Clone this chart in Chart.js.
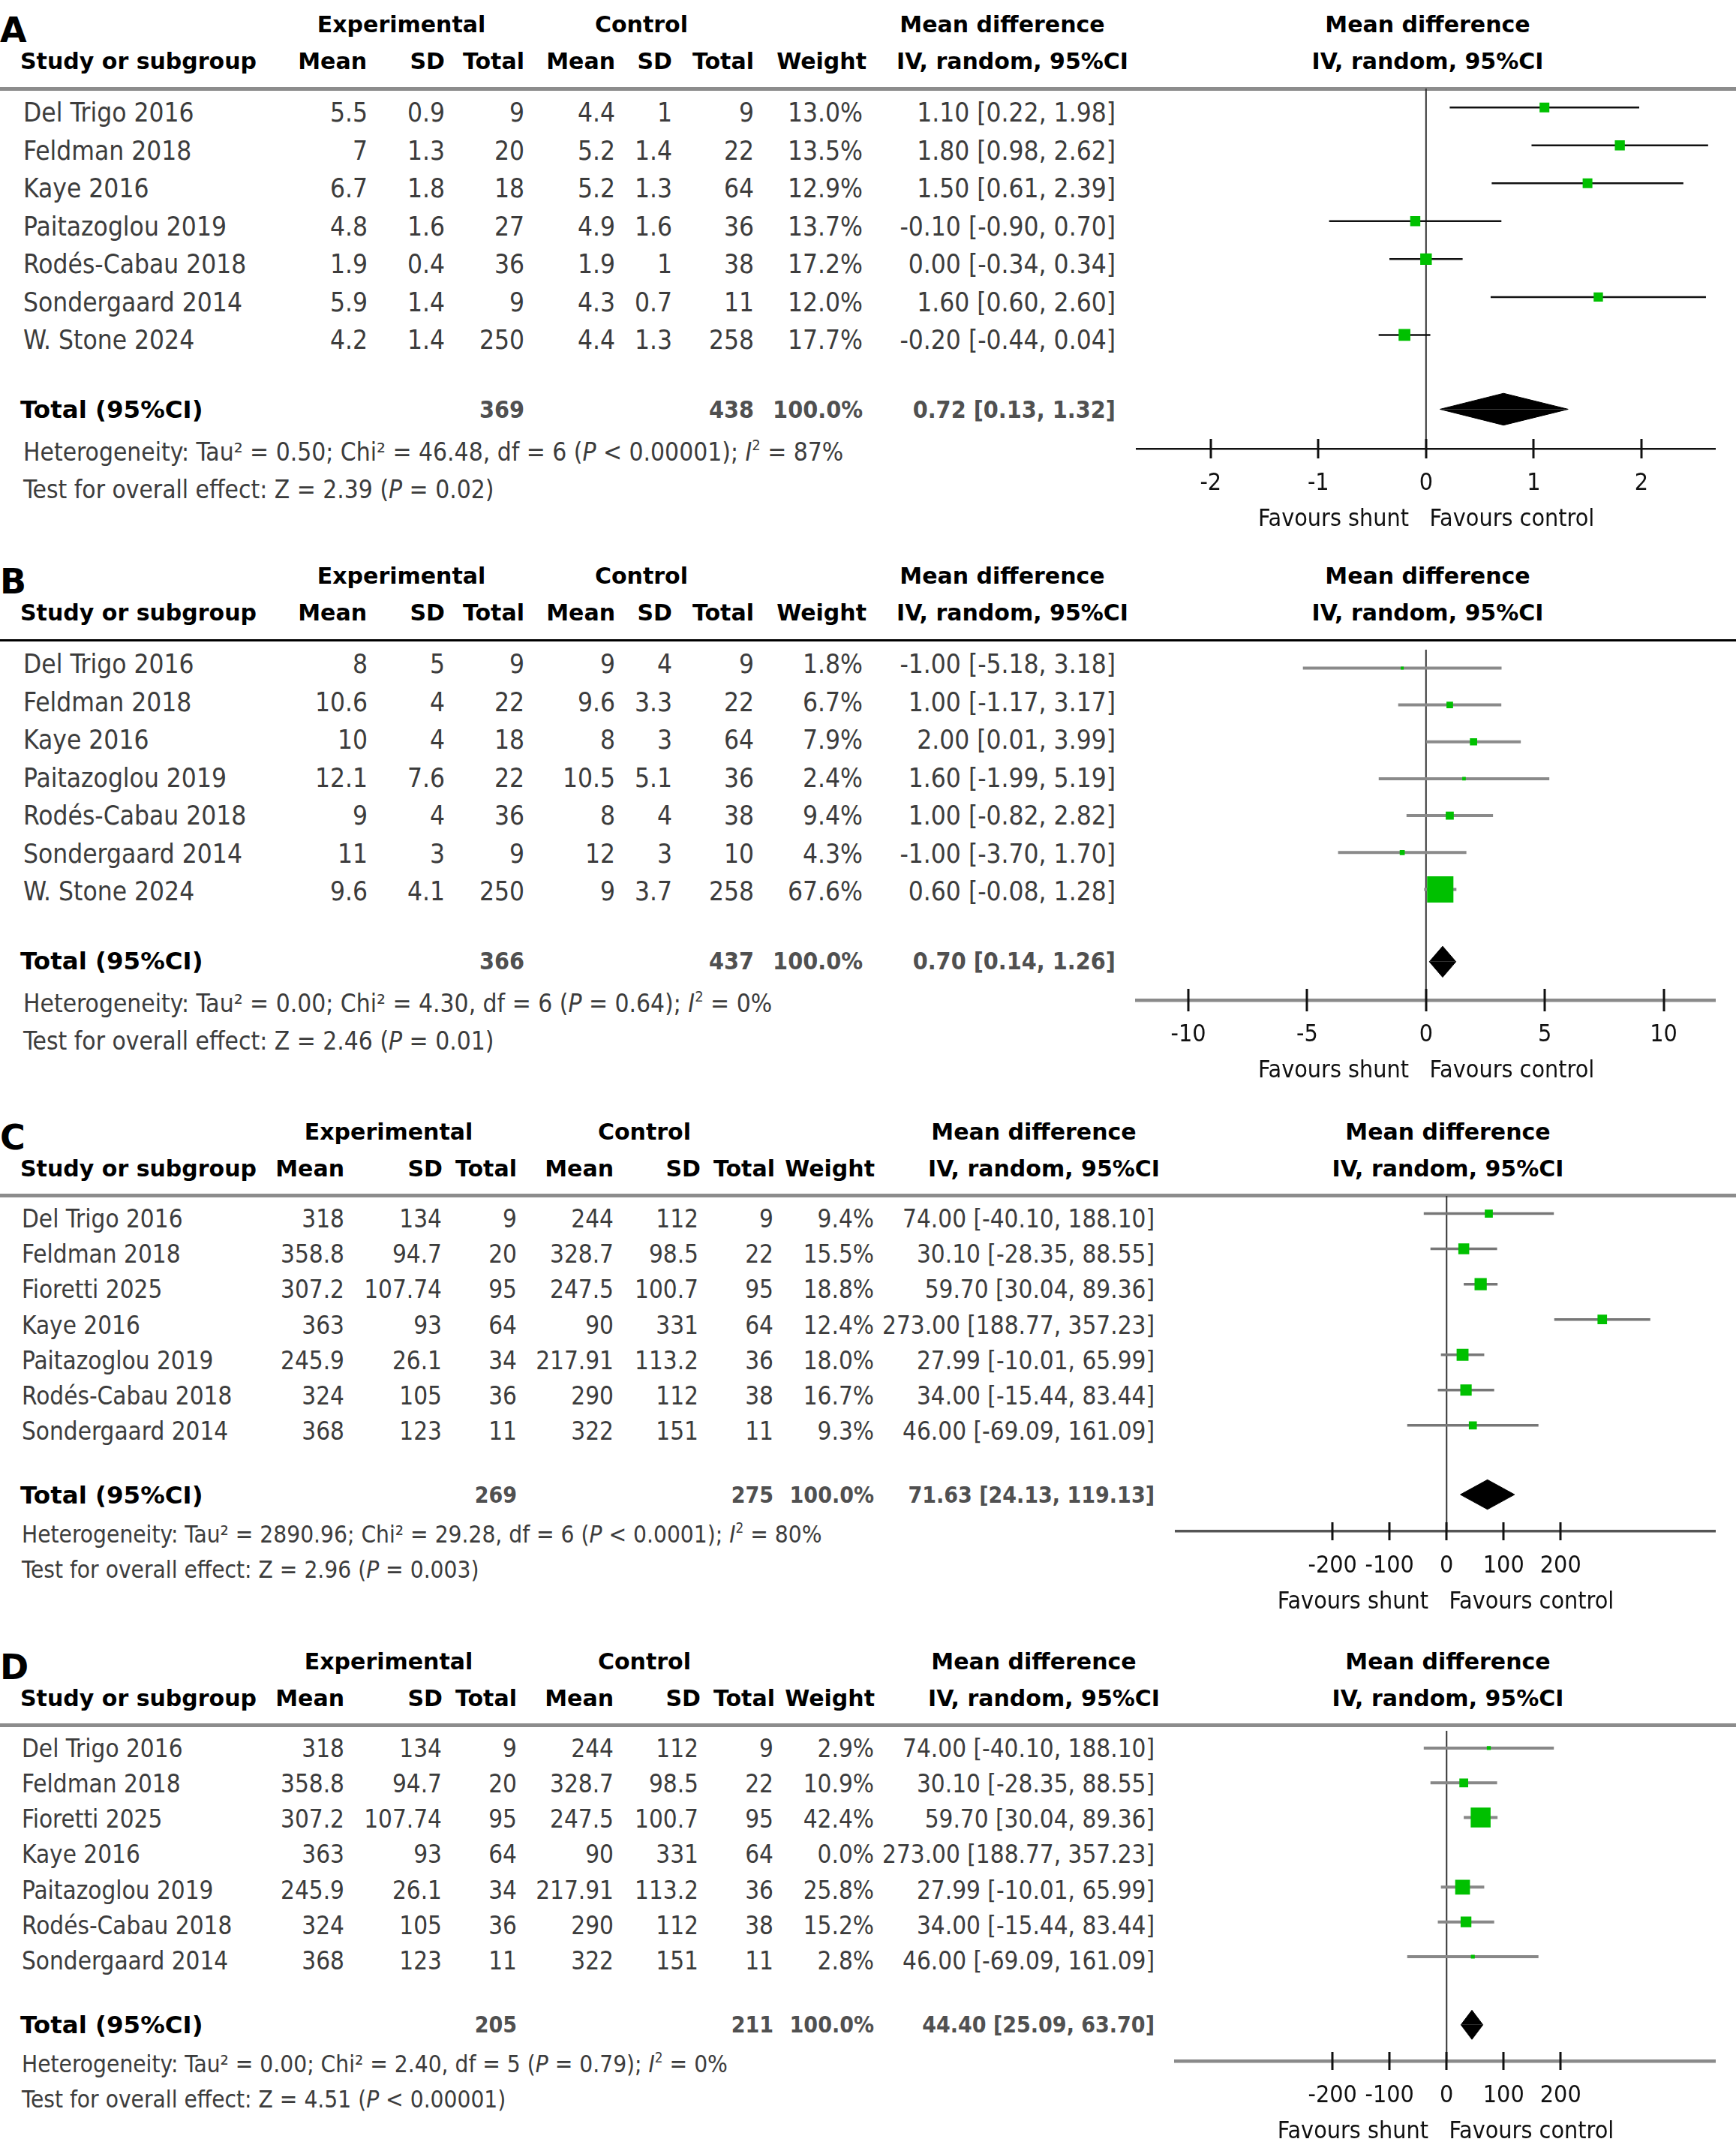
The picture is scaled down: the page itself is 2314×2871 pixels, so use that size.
<!DOCTYPE html>
<html>
<head>
<meta charset="utf-8">
<script src="https://cdn.jsdelivr.net/npm/chart.js@4.4.1/dist/chart.umd.min.js"></script>
<style>
    body { margin: 0; background: #fff; }
    #fig { position: relative; width: 2314px; height: 2871px; overflow: hidden; background: #fff; }
    .t { position: absolute; white-space: pre; line-height: 1; }
    .t sup { font-size: 0.6em; line-height: 0; vertical-align: 0.7em; }
    .hline { position: absolute; left: 0; width: 2314px; }
    canvas { position: absolute; }
</style>
</head>
<body>
<div id="fig"></div>
<script>
// ---- Data ----
const studiesAB = ['Del Trigo 2016', 'Feldman 2018', 'Kaye 2016', 'Paitazoglou 2019', 'Rodés-Cabau 2018', 'Sondergaard 2014', 'W. Stone 2024'];
const studiesCD = ['Del Trigo 2016', 'Feldman 2018', 'Fioretti 2025', 'Kaye 2016', 'Paitazoglou 2019', 'Rodés-Cabau 2018', 'Sondergaard 2014'];

// Panel A
const aExpMean = [5.5, 7, 6.7, 4.8, 1.9, 5.9, 4.2];
const aExpSD = [0.9, 1.3, 1.8, 1.6, 0.4, 1.4, 1.4];
const aExpN = [9, 20, 18, 27, 36, 9, 250];
const aCtlMean = [4.4, 5.2, 5.2, 4.9, 1.9, 4.3, 4.4];
const aCtlSD = [1, 1.4, 1.3, 1.6, 1, 0.7, 1.3];
const aCtlN = [9, 22, 64, 36, 38, 11, 258];
const aWeight = [13.0, 13.5, 12.9, 13.7, 17.2, 12.0, 17.7];
const aMD = [1.10, 1.80, 1.50, -0.10, 0.00, 1.60, -0.20];
const aLo = [0.22, 0.98, 0.61, -0.90, -0.34, 0.60, -0.44];
const aHi = [1.98, 2.62, 2.39, 0.70, 0.34, 2.60, 0.04];
const aTotalN = [369, 438];
const aTotalCI = [0.72, 0.13, 1.32];
const aTicks = [-2, -1, 0, 1, 2];
const aHet = 'Heterogeneity: Tau² = 0.50; Chi² = 46.48, df = 6 (<i>P</i> &lt; 0.00001); <i>I</i><sup>2</sup> = 87%';
const aTest = 'Test for overall effect: Z = 2.39 (<i>P</i> = 0.02)';

// Panel B
const bExpMean = [8, 10.6, 10, 12.1, 9, 11, 9.6];
const bExpSD = [5, 4, 4, 7.6, 4, 3, 4.1];
const bExpN = [9, 22, 18, 22, 36, 9, 250];
const bCtlMean = [9, 9.6, 8, 10.5, 8, 12, 9];
const bCtlSD = [4, 3.3, 3, 5.1, 4, 3, 3.7];
const bCtlN = [9, 22, 64, 36, 38, 10, 258];
const bWeight = [1.8, 6.7, 7.9, 2.4, 9.4, 4.3, 67.6];
const bMD = [-1.00, 1.00, 2.00, 1.60, 1.00, -1.00, 0.60];
const bLo = [-5.18, -1.17, 0.01, -1.99, -0.82, -3.70, -0.08];
const bHi = [3.18, 3.17, 3.99, 5.19, 2.82, 1.70, 1.28];
const bTotalN = [366, 437];
const bTotalCI = [0.70, 0.14, 1.26];
const bTicks = [-10, -5, 0, 5, 10];
const bHet = 'Heterogeneity: Tau² = 0.00; Chi² = 4.30, df = 6 (<i>P</i> = 0.64); <i>I</i><sup>2</sup> = 0%';
const bTest = 'Test for overall effect: Z = 2.46 (<i>P</i> = 0.01)';

// Panels C and D share the study rows
const cdExpMean = [318, 358.8, 307.2, 363, 245.9, 324, 368];
const cdExpSD = [134, 94.7, 107.74, 93, 26.1, 105, 123];
const cdExpN = [9, 20, 95, 64, 34, 36, 11];
const cdCtlMean = [244, 328.7, 247.5, 90, 217.91, 290, 322];
const cdCtlSD = [112, 98.5, 100.7, 331, 113.2, 112, 151];
const cdCtlN = [9, 22, 95, 64, 36, 38, 11];
const cdMD = [74.00, 30.10, 59.70, 273.00, 27.99, 34.00, 46.00];
const cdLo = [-40.10, -28.35, 30.04, 188.77, -10.01, -15.44, -69.09];
const cdHi = [188.10, 88.55, 89.36, 357.23, 65.99, 83.44, 161.09];
const cdTicks = [-200, -100, 0, 100, 200];

const cWeight = [9.4, 15.5, 18.8, 12.4, 18.0, 16.7, 9.3];
const cTotalN = [269, 275];
const cTotalCI = [71.63, 24.13, 119.13];
const cHet = 'Heterogeneity: Tau² = 2890.96; Chi² = 29.28, df = 6 (<i>P</i> &lt; 0.0001); <i>I</i><sup>2</sup> = 80%';
const cTest = 'Test for overall effect: Z = 2.96 (<i>P</i> = 0.003)';

const dWeight = [2.9, 10.9, 42.4, 0.0, 25.8, 15.2, 2.8];
const dTotalN = [205, 211];
const dTotalCI = [44.40, 25.09, 63.70];
const dHet = 'Heterogeneity: Tau² = 0.00; Chi² = 2.40, df = 5 (<i>P</i> = 0.79); <i>I</i><sup>2</sup> = 0%';
const dTest = 'Test for overall effect: Z = 4.51 (<i>P</i> &lt; 0.00001)';

const colHeads = ['Mean', 'SD', 'Total', 'Mean', 'SD', 'Total', 'Weight', 'IV, random, 95%CI'];

// ---- Layout ----
const GREEN = '#00c000';
const ROW_MAX = 9.5;      // y range of plot area (rows are at i + 0.5)
const TOTAL_ROW = 8.46;
const DIAMOND_H = 0.42;
const AXIS_RIGHT = 2286.6;
const CANVAS_LEFT = 1480;
const PAD_TOP = 12;
const SCALE_H = 114;
const HDR_FONT = 'bold 30px "DejaVu Sans"';
const TOTAL_FONT = 'bold 32.5px "DejaVu Sans"';
const LETTER_FONT = 'bold 46px "DejaVu Sans"';
const AXIS_FONT = '"DejaVu Sans Condensed", "DejaVu Sans"';

const layoutAB = {
    rowFont: 35, spacing: 50.5, nameX: 31,
    cols: [490, 593, 699, 820, 896, 1005, 1150, 1487],
    hdrCols: [489, 593, 699, 820, 896, 1005, 1155, 1504],
    groups: [535, 855, 1336, 1903],
    axisLeft: 1515.6
};
const layoutCD = {
    rowFont: 33, spacing: 47.1, nameX: 29,
    cols: [459, 589, 689, 818, 931, 1031, 1165, 1539],
    hdrCols: [459, 590, 689, 818, 934, 1033, 1166, 1546],
    groups: [518, 859, 1378, 1930],
    axisLeft: 1567.5
};

const fig = document.getElementById('fig');

function put(str, x, y, align, font, color) {
    const d = document.createElement('div');
    d.className = 't';
    d.style.font = font;
    d.style.lineHeight = '1';
    d.style.color = color || '#000';
    d.innerHTML = str;
    d.style.left = x + 'px';
    d.style.top = y + 'px';
    const tx = align === 'right' ? '-100%' : (align === 'center' ? '-50%' : '0');
    d.style.transform = 'translate(' + tx + ', -50%)';
    fig.appendChild(d);
}

function hline(y, width, color) {
    const d = document.createElement('div');
    d.className = 'hline';
    d.style.top = (y - width / 2) + 'px';
    d.style.height = width + 'px';
    d.style.background = color;
    fig.appendChild(d);
}

function ciText(md, lo, hi) {
    return md.toFixed(2) + ' [' + lo.toFixed(2) + ', ' + hi.toFixed(2) + ']';
}

// square side grows with study weight
function boxSide(w) {
    return 2.8 * Math.pow(w, 0.6);
}

// tick marks that cross the axis line, like RevMan
const crossTicks = {
    id: 'crossTicks',
    afterDraw(chart, args, opts) {
        const sx = chart.scales.x;
        const y0 = chart.chartArea.bottom;
        const ctx = chart.ctx;
        ctx.save();
        ctx.strokeStyle = opts.color;
        ctx.lineWidth = opts.width;
        sx.ticks.forEach(t => {
            const px = Math.round(sx.getPixelForValue(t.value));
            ctx.beginPath();
            ctx.moveTo(px, y0 - opts.len);
            ctx.lineTo(px, y0 + opts.len);
            ctx.stroke();
        });
        ctx.restore();
    }
};

function buildPanel(p) {
    const L = p.layout;
    const HL = p.hl;
    const rowY = v => HL + v * L.spacing;
    const family = '"DejaVu Sans Condensed", "DejaVu Sans"';
    const rowFont = L.rowFont + 'px ' + family;
    const hetFont = (L.rowFont * 0.95) + 'px ' + family;
    const boldRow = 'bold ' + (L.rowFont - 3) + 'px ' + family;
    const grey = '#3c3c3c';

    // headers
    put(p.letter, 0, HL - 78, 'left', LETTER_FONT);
    put('Experimental', L.groups[0], HL - 85, 'center', HDR_FONT);
    put('Control', L.groups[1], HL - 85, 'center', HDR_FONT);
    put('Mean difference', L.groups[2], HL - 85, 'center', HDR_FONT);
    put('Mean difference', L.groups[3], HL - 85, 'center', HDR_FONT);
    put('Study or subgroup', 27, HL - 36, 'left', HDR_FONT);
    colHeads.forEach((h, k) => put(h, L.hdrCols[k], HL - 36, 'right', HDR_FONT));
    put('IV, random, 95%CI', L.groups[3], HL - 36, 'center', HDR_FONT);
    hline(HL, p.hlWidth, p.hlColor);

    // study rows
    p.studies.forEach((name, i) => {
        const y = rowY(i + 0.5) + 7;
        put(name, L.nameX, y, 'left', rowFont, grey);
        const cells = [p.expMean[i], p.expSD[i], p.expN[i], p.ctlMean[i], p.ctlSD[i], p.ctlN[i],
            p.weight[i].toFixed(1) + '%', ciText(p.md[i], p.lo[i], p.hi[i])];
        cells.forEach((c, k) => put(String(c), L.cols[k], y, 'right', rowFont, grey));
    });

    // total row
    const ty = rowY(TOTAL_ROW) + 1;
    put('Total (95%CI)', 27, ty, 'left', TOTAL_FONT);
    put(String(p.totalN[0]), L.cols[2], ty, 'right', boldRow, '#505050');
    put(String(p.totalN[1]), L.cols[5], ty, 'right', boldRow, '#505050');
    put('100.0%', L.cols[6], ty, 'right', boldRow, '#505050');
    put(ciText(p.totalCI[0], p.totalCI[1], p.totalCI[2]), L.cols[7], ty, 'right', boldRow, '#505050');
    put(p.het, L.nameX, rowY(9.6), 'left', hetFont, grey);
    put(p.test, L.nameX, rowY(10.6), 'left', hetFont, grey);

    // forest plot
    const cv = document.createElement('canvas');
    cv.width = 2314 - CANVAS_LEFT;
    cv.height = Math.round(PAD_TOP + ROW_MAX * L.spacing + SCALE_H);
    cv.style.left = CANVAS_LEFT + 'px';
    cv.style.top = (HL - PAD_TOP) + 'px';
    fig.appendChild(cv);

    const shown = p.studies.map((s, i) => i).filter(i => p.weight[i] > 0);
    const datasets = [];
    datasets.push({
        type: 'scatter',
        data: shown.map(i => ({ x: p.md[i], y: i + 0.5 })),
        pointStyle: 'rect',
        pointRadius: shown.map(i => boxSide(p.weight[i]) / Math.SQRT2),
        backgroundColor: GREEN,
        borderWidth: 0
    });
    const [tMd, tLo, tHi] = p.totalCI;
    [-DIAMOND_H, DIAMOND_H].forEach(h => {
        datasets.push({
            type: 'line',
            data: [{ x: tLo, y: TOTAL_ROW }, { x: tMd, y: TOTAL_ROW + h }, { x: tHi, y: TOTAL_ROW }],
            borderColor: '#000',
            backgroundColor: '#000',
            borderWidth: 1,
            pointRadius: 0,
            fill: { value: TOTAL_ROW }
        });
    });
    shown.forEach(i => {
        datasets.push({
            type: 'line',
            data: [{ x: p.lo[i], y: i + 0.5 }, { x: p.hi[i], y: i + 0.5 }],
            borderColor: p.ciColor,
            borderWidth: p.ciWidth,
            pointRadius: 0,
            fill: false
        });
    });
    datasets.push({
        type: 'line',
        data: [{ x: 0, y: 0 }, { x: 0, y: ROW_MAX }],
        borderColor: '#333',
        borderWidth: 2,
        pointRadius: 0,
        fill: false
    });

    new Chart(cv.getContext('2d'), {
        type: 'line',
        data: { datasets: datasets },
        plugins: [crossTicks],
        options: {
            responsive: false,
            animation: false,
            events: [],
            layout: { padding: { left: L.axisLeft - CANVAS_LEFT, right: 2314 - AXIS_RIGHT, top: PAD_TOP, bottom: 0 } },
            plugins: {
                legend: { display: false },
                tooltip: { enabled: false },
                crossTicks: { color: '#111', width: 3, len: p.tickLen }
            },
            scales: {
                y: { type: 'linear', display: false, min: 0, max: ROW_MAX, reverse: true },
                x: {
                    type: 'linear',
                    min: p.xMin,
                    max: p.xMax,
                    afterBuildTicks: s => { s.ticks = p.ticks.map(v => ({ value: v })); },
                    afterFit: s => { s.height = SCALE_H; },
                    grid: { display: false, drawTicks: false },
                    border: { display: true, color: p.axisColor, width: p.axisWidth },
                    ticks: {
                        font: { family: AXIS_FONT, size: 32 },
                        color: '#111',
                        padding: 27,
                        autoSkip: false,
                        maxRotation: 0,
                        callback: v => String(v)
                    },
                    title: {
                        display: true,
                        text: 'Favours shunt   Favours control',
                        font: { family: AXIS_FONT, size: 32 },
                        color: '#111',
                        padding: { top: 0, bottom: 0 }
                    }
                }
            }
        }
    });
}

buildPanel({
    letter: 'A', hl: 118, layout: layoutAB, studies: studiesAB,
    expMean: aExpMean, expSD: aExpSD, expN: aExpN, ctlMean: aCtlMean, ctlSD: aCtlSD, ctlN: aCtlN,
    weight: aWeight, md: aMD, lo: aLo, hi: aHi, totalN: aTotalN, totalCI: aTotalCI, ticks: aTicks,
    het: aHet, test: aTest,
    xMin: -2.684, xMax: 2.688,
    ciColor: '#111', ciWidth: 2.5, axisColor: '#111', axisWidth: 2.5,
    hlColor: '#8c8c8c', hlWidth: 5, tickLen: 13
});

buildPanel({
    letter: 'B', hl: 853, layout: layoutAB, studies: studiesAB,
    expMean: bExpMean, expSD: bExpSD, expN: bExpN, ctlMean: bCtlMean, ctlSD: bCtlSD, ctlN: bCtlN,
    weight: bWeight, md: bMD, lo: bLo, hi: bHi, totalN: bTotalN, totalCI: bTotalCI, ticks: bTicks,
    het: bHet, test: bTest,
    xMin: -12.16, xMax: 12.18,
    ciColor: '#8a8a8a', ciWidth: 4, axisColor: '#8a8a8a', axisWidth: 4.5,
    hlColor: '#000', hlWidth: 3, tickLen: 15
});

buildPanel({
    letter: 'C', hl: 1593.7, layout: layoutCD, studies: studiesCD,
    expMean: cdExpMean, expSD: cdExpSD, expN: cdExpN, ctlMean: cdCtlMean, ctlSD: cdCtlSD, ctlN: cdCtlN,
    weight: cWeight, md: cdMD, lo: cdLo, hi: cdHi, totalN: cTotalN, totalCI: cTotalCI, ticks: cdTicks,
    het: cHet, test: cTest,
    xMin: -474.7, xMax: 471.5,
    ciColor: '#777', ciWidth: 3.5, axisColor: '#555', axisWidth: 3.5,
    hlColor: '#8c8c8c', hlWidth: 5, tickLen: 12
});

buildPanel({
    letter: 'D', hl: 2299.6, layout: layoutCD, studies: studiesCD,
    expMean: cdExpMean, expSD: cdExpSD, expN: cdExpN, ctlMean: cdCtlMean, ctlSD: cdCtlSD, ctlN: cdCtlN,
    weight: dWeight, md: cdMD, lo: cdLo, hi: cdHi, totalN: dTotalN, totalCI: dTotalCI, ticks: cdTicks,
    het: dHet, test: dTest,
    xMin: -474.7, xMax: 471.5,
    ciColor: '#888', ciWidth: 4, axisColor: '#8a8a8a', axisWidth: 4.5,
    hlColor: '#8c8c8c', hlWidth: 5, tickLen: 12
});
</script>
</body>
</html>
